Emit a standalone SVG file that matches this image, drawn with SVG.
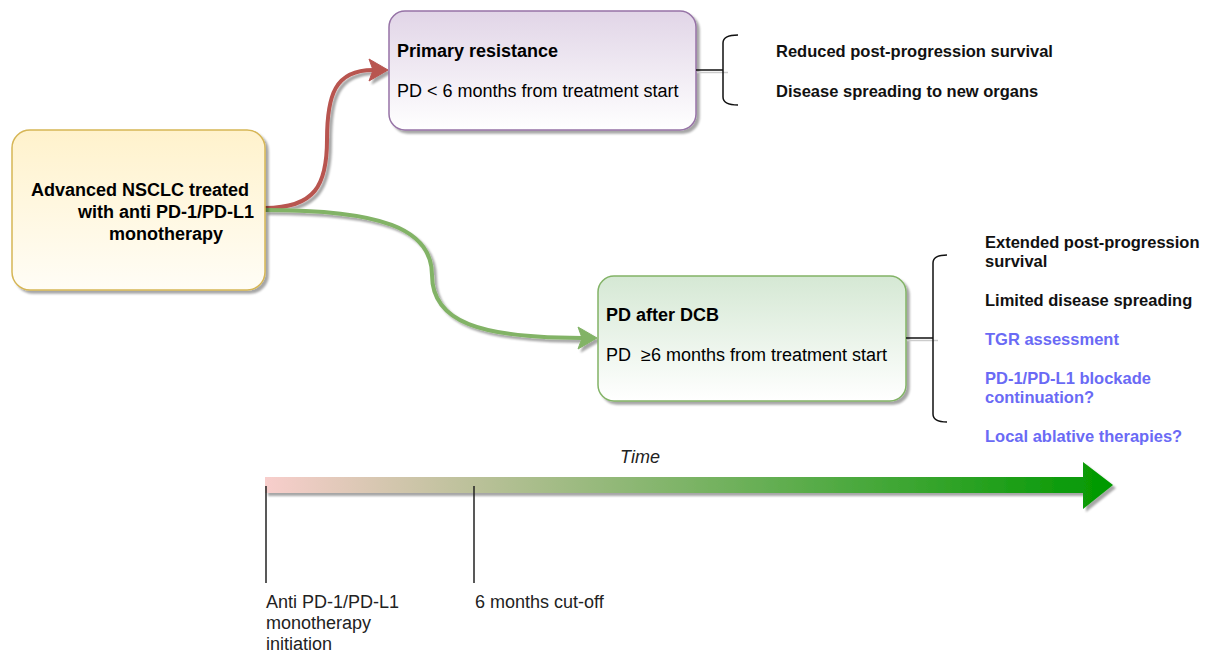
<svg xmlns="http://www.w3.org/2000/svg" width="1206" height="655" viewBox="0 0 1206 655">
<style>
text{font-family:"Liberation Sans",Arial,Helvetica,sans-serif;}
.nt{font-size:18px;fill:#000;}
.b{font-weight:bold;}
.rt{font-size:16.5px;font-weight:bold;fill:#111;}
.blue{fill:#6a6af5;}
.tl{font-size:18px;fill:#222;}
.brk{fill:none;stroke:#111;stroke-width:1.5;}
.brs{fill:none;stroke:#ccc;stroke-width:1.5;}
.tick{stroke:#222;stroke-width:1.5;}
</style>
<defs>
<filter id="sh" x="-10%" y="-10%" width="130%" height="140%">
<feDropShadow dx="3" dy="3" stdDeviation="0.8" flood-color="#000" flood-opacity="0.35"/>
</filter>
<linearGradient id="gY" x1="0" y1="0" x2="0" y2="1"><stop offset="0" stop-color="#fff2cc"/><stop offset="1" stop-color="#fffdf6"/></linearGradient>
<linearGradient id="gP" x1="0" y1="0" x2="0" y2="1"><stop offset="0" stop-color="#e1d5e7"/><stop offset="1" stop-color="#ffffff"/></linearGradient>
<linearGradient id="gG" x1="0" y1="0" x2="0" y2="1"><stop offset="0" stop-color="#d5e8d4"/><stop offset="1" stop-color="#ffffff"/></linearGradient>
<linearGradient id="gT" gradientUnits="userSpaceOnUse" x1="265" y1="0" x2="1113" y2="0"><stop offset="0" stop-color="#f8cecc"/><stop offset="1" stop-color="#009900"/></linearGradient>
<marker id="aR" markerUnits="userSpaceOnUse" markerWidth="22" markerHeight="24" refX="4" refY="11" orient="auto" overflow="visible">
<path d="M0,0 L19,11 L0,22 L4,11 Z" fill="#b85450" stroke="#b85450" stroke-width="1"/>
</marker>
<marker id="aG" markerUnits="userSpaceOnUse" markerWidth="22" markerHeight="24" refX="4" refY="11" orient="auto" overflow="visible">
<path d="M0,0 L19,11 L0,22 L4,11 Z" fill="#82b366" stroke="#82b366" stroke-width="1"/>
</marker>
</defs>

<g id="connectors" fill="none" stroke-width="4" filter="url(#sh)">
<path id="edge-red" d="M265,208 C315,208 327,185 327,140 C327,95 335,70 373,70" stroke="#b85450" marker-end="url(#aR)"/>
<path id="edge-green" d="M265,210 C380,210 432,228 432,275 C432,322 480,338 582,338" stroke="#82b366" marker-end="url(#aG)"/>
</g>

<g id="node-nsclc">
<rect x="12" y="130" width="253" height="160" rx="18" fill="url(#gY)" stroke="#d6b656" stroke-width="1.5" filter="url(#sh)"/>
<text class="nt b" text-anchor="middle" x="140" y="196">Advanced NSCLC treated</text>
<text class="nt b" text-anchor="middle" x="166" y="218">with anti PD-1/PD-L1</text>
<text class="nt b" text-anchor="middle" x="166" y="240">monotherapy</text>
</g>

<g id="node-primary">
<rect x="389" y="11" width="307" height="119" rx="16" fill="url(#gP)" stroke="#9673a6" stroke-width="1.5" filter="url(#sh)"/>
<text class="nt b" x="397" y="57">Primary resistance</text>
<text class="nt" x="397" y="97">PD &lt; 6 months from treatment start</text>
</g>

<g id="node-dcb">
<rect x="598" y="276" width="308" height="125" rx="16" fill="url(#gG)" stroke="#82b366" stroke-width="1.5" filter="url(#sh)"/>
<text class="nt b" x="606" y="321">PD after DCB</text>
<text class="nt" x="606" y="361" xml:space="preserve">PD  ≥6 months from treatment start</text>
</g>

<g id="bracket-primary">
<line class="brs" x1="697" y1="72.5" x2="728" y2="72.5"/>
<line class="brk" x1="696" y1="70" x2="723" y2="70"/>
<path class="brk" d="M738,35 Q723,35 723,43 L723,97 Q723,105 738,105"/>
<text class="rt" x="776" y="57">Reduced post-progression survival</text>
<text class="rt" x="776" y="97">Disease spreading to new organs</text>
</g>

<g id="bracket-dcb">
<line class="brs" x1="907" y1="340.5" x2="938" y2="340.5"/>
<line class="brk" x1="906" y1="338" x2="933" y2="338"/>
<path class="brk" d="M947,255 Q933,255 933,263 L933,414 Q933,422 947,422"/>
<text class="rt" x="985" y="248">Extended post-progression</text>
<text class="rt" x="985" y="267">survival</text>
<text class="rt" x="985" y="306">Limited disease spreading</text>
<text class="rt blue" x="985" y="345">TGR assessment</text>
<text class="rt blue" x="985" y="384">PD-1/PD-L1 blockade</text>
<text class="rt blue" x="985" y="403">continuation?</text>
<text class="rt blue" x="985" y="442">Local ablative therapies?</text>
</g>

<g id="timeline">
<path d="M265,477 L1083,477 L1083,462 L1113,485 L1083,509 L1083,493 L265,493 Z" fill="url(#gT)" filter="url(#sh)"/>
<text class="tl" x="640" y="463" text-anchor="middle" font-style="italic">Time</text>
<line class="tick" x1="266" y1="486" x2="266" y2="583"/>
<line class="tick" x1="474" y1="486" x2="474" y2="583"/>
<text class="tl" x="266" y="608">Anti PD-1/PD-L1</text>
<text class="tl" x="266" y="629">monotherapy</text>
<text class="tl" x="266" y="650">initiation</text>
<text class="tl" x="475" y="608">6 months cut-off</text>
</g>
</svg>
